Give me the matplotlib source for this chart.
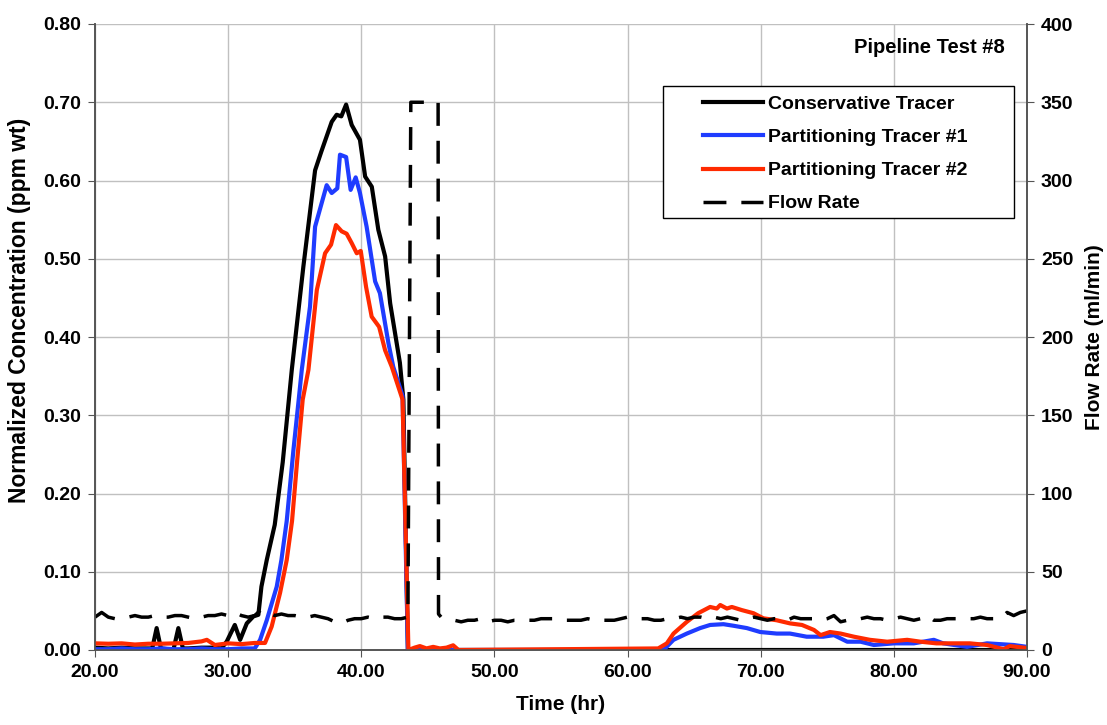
import matplotlib

matplotlib.use("Agg")
import matplotlib.pyplot as plt
from matplotlib.lines import Line2D
from matplotlib.patches import Rectangle

# --- data --------------------------------------------------------------------
CONS_T = [20, 21, 22, 23, 24, 24.3, 24.63, 24.95, 25.5, 25.9, 26.26, 26.6, 27, 28,
          29, 29.5, 29.9, 30.5, 30.9, 31.4, 31.9, 32.27, 32.5, 32.9, 33.5, 34.1,
          34.78, 35.65, 36.53, 37.0, 37.78, 38.15, 38.5, 38.86, 39.28, 39.9, 40.29,
          40.79, 41.28, 41.79, 42.17, 42.9, 43.16, 43.5, 50, 60, 70, 80, 90]
CONS_C = [0.003, 0.002, 0.003, 0.002, 0.002, 0.002, 0.028, 0.002, 0.001, 0.001,
          0.028, 0.002, 0.002, 0.003, 0.003, 0.002, 0.011, 0.032, 0.013, 0.034,
          0.043, 0.045, 0.081, 0.115, 0.16, 0.24, 0.358, 0.49, 0.613, 0.637, 0.675,
          0.684, 0.682, 0.697, 0.671, 0.652, 0.605, 0.592, 0.537, 0.503, 0.443,
          0.367, 0.32, 0.0, 0.0, 0.0, 0.0, 0.0, 0.0]

PT1_T = [20, 21, 22, 23, 24, 25, 26, 27, 28, 29, 30, 31, 32, 32.4, 32.9, 33.65,
         34.0, 34.4, 34.9, 35.3, 35.53, 36.15, 36.53, 37.4, 37.78, 38.2, 38.4, 38.86,
         39.2, 39.58, 39.9, 40.4, 41.04, 41.4, 42.04, 42.4, 43.1, 43.5, 44, 62.7,
         63.45, 64.45, 65.45, 66.2, 67.2, 67.95, 68.96, 69.96, 71.2, 72.2, 73.45,
         74.7, 75.5, 76.5, 77.5, 78.5, 80.0, 81.5, 83.0, 83.7, 85.5, 87.0, 89.0, 90]
PT1_C = [0.001, 0.001, 0.002, 0.001, 0.001, 0.002, 0.001, 0.001, 0.002, 0.001,
         0.001, 0.002, 0.002, 0.013, 0.038, 0.081, 0.115, 0.165, 0.255, 0.32, 0.358,
         0.439, 0.541, 0.594, 0.584, 0.590, 0.633, 0.630, 0.588, 0.604, 0.584, 0.541,
         0.471, 0.456, 0.392, 0.362, 0.325, 0.0, 0.0, 0.0, 0.013, 0.021, 0.028,
         0.032, 0.033, 0.031, 0.028, 0.023, 0.021, 0.021, 0.017, 0.017, 0.019,
         0.0106, 0.0106, 0.0064, 0.0085, 0.0085, 0.013, 0.0085, 0.004, 0.0085,
         0.0064, 0.004]

PT2_T = [20, 21, 22, 23, 24, 25, 26, 27, 28, 28.4, 29, 30, 31, 32, 32.5, 32.77,
         33.27, 33.9, 34.4, 34.8, 35.2, 35.6, 36.03, 36.66, 37.28, 37.73, 38.1,
         38.53, 38.9, 39.28, 39.66, 39.96, 40.36, 40.78, 41.34, 41.79, 42.29, 43.1,
         43.54, 44, 44.4, 44.9, 45.4, 45.9, 46.4, 46.9, 47.3, 62.3, 62.95, 63.45,
         64.45, 65.3, 66.2, 66.7, 66.96, 67.46, 67.83, 68.58, 69.46, 70.2, 71.2,
         72.2, 73.1, 74.0, 74.5, 75.2, 76.0, 77.0, 78.2, 79.5, 81.0, 82.0, 83.2,
         84.5, 85.7, 87.0, 88.25, 88.7, 90]
PT2_C = [0.0085, 0.008, 0.0085, 0.007, 0.008, 0.008, 0.0085, 0.009, 0.011, 0.013,
         0.0064, 0.0085, 0.0075, 0.009, 0.009, 0.009, 0.03, 0.073, 0.115, 0.165,
         0.245, 0.32, 0.358, 0.46, 0.507, 0.518, 0.543, 0.535, 0.532, 0.52, 0.507,
         0.510, 0.464, 0.426, 0.413, 0.383, 0.362, 0.32, 0.0, 0.003, 0.005, 0.002,
         0.004, 0.002, 0.003, 0.006, 0.0, 0.002, 0.0085, 0.021, 0.036, 0.047,
         0.055, 0.053, 0.0575, 0.053, 0.055, 0.051, 0.047, 0.0405, 0.038, 0.034,
         0.032, 0.0256, 0.019, 0.023, 0.021, 0.017, 0.013, 0.0106, 0.013, 0.0106,
         0.0085, 0.0085, 0.0085, 0.0064, 0.001, 0.005, 0.0025]

FLOW_T = [20.0, 20.5, 21.0, 21.5, 22.0, 22.5, 23.0, 23.5, 24.0, 24.5, 25.0, 25.5,
          26.0, 26.5, 27.0, 27.5, 28.0, 28.5, 29.0, 29.5, 30.0, 30.5, 31.0, 31.5,
          32.0, 32.5, 33.0, 33.5, 34.0, 34.5, 35.0, 35.5, 36.0, 36.5, 37.0, 37.5,
          38.0, 38.5, 39.0, 39.5, 40.0, 40.5, 41.0, 41.5, 42.0, 42.5, 43.0, 43.5,
          43.72, 45.77, 45.8, 46.0, 46.5, 47.0, 47.5, 48.0, 48.5, 49.0, 49.5, 50.0,
          50.5, 51.0, 51.5, 52.0, 52.5, 53.0, 53.5, 54.0, 54.5, 55.0, 55.5, 56.0,
          56.5, 57.0, 57.5, 58.0, 58.5, 59.0, 59.5, 60.0, 60.5, 61.0, 61.5, 62.0,
          62.5, 63.0, 63.5, 64.0, 64.5, 65.0, 65.5, 66.0, 66.5, 67.0, 67.5, 68.0,
          68.5, 69.0, 69.5, 70.0, 70.5, 71.0, 71.5, 72.0, 72.5, 73.0, 73.5, 74.0,
          74.5, 75.0, 75.5, 76.0, 76.5, 77.0, 77.5, 78.0, 78.5, 79.0, 79.5, 80.0,
          80.5, 81.0, 81.5, 82.0, 82.5, 83.0, 83.5, 84.0, 84.5, 85.0, 85.5, 86.0,
          86.5, 87.0, 87.5, 88.0, 88.5, 89.0, 89.5, 90.0]
FLOW_Q = [21, 24, 21, 20, 21, 21, 22, 21, 21, 22, 21, 21,
          22, 22, 21, 20, 21, 22, 22, 23, 22, 24, 22, 21,
          22, 26, 24, 22, 23, 22, 22, 21, 21, 22, 21, 20,
          18, 17, 19, 20, 20, 21, 20, 21, 21, 20, 20, 21,
          350, 350, 23, 21, 20, 19, 18, 19, 19, 20, 18, 19,
          19, 18, 19, 19, 19, 19, 20, 20, 20, 19, 19, 19,
          19, 20, 19, 19, 19, 19, 20, 21, 20, 20, 20, 19,
          19, 20, 20, 21, 20, 21, 21, 20, 21, 20, 21, 20,
          19, 20, 21, 20, 19, 20, 20, 19, 21, 20, 20, 20,
          19, 20, 22, 18, 19, 20, 20, 21, 20, 20, 19, 20,
          21, 20, 19, 20, 22, 19, 19, 20, 20, 20, 20, 20,
          21, 20, 20, 20, 24, 22, 24, 25]

X_TICKS = [20, 30, 40, 50, 60, 70, 80, 90]
Y_TICKS = [0.0, 0.1, 0.2, 0.3, 0.4, 0.5, 0.6, 0.7, 0.8]
Q_TICKS = [0, 50, 100, 150, 200, 250, 300, 350, 400]

BLUE = "#1f3cff"
RED = "#ff2a00"
GRID = "#c0c0c0"
SPINE = "#555555"
FLOW_DASH = (0, (6.6, 4.3))
FS = 14

plt.rcParams.update({"font.family": ["Liberation Sans", "DejaVu Sans"],
                     "font.weight": "bold", "font.size": FS})

fig = plt.figure(figsize=(11.07, 7.25), dpi=100)
ax = fig.add_axes([95 / 1107, 75 / 725, 932 / 1107, 626 / 725])
ax2 = ax.twinx()

ax.plot(CONS_T, CONS_C, color="black", lw=3, solid_joinstyle="round", zorder=3)
ax.plot(PT1_T, PT1_C, color=BLUE, lw=3, solid_joinstyle="round", zorder=3)
ax.plot(PT2_T, PT2_C, color=RED, lw=3, solid_joinstyle="round", zorder=3)
ax2.plot(FLOW_T, FLOW_Q, color="black", lw=2.5, ls=FLOW_DASH, dash_capstyle="butt")

ax.set_xlim(20, 90)
ax.set_ylim(0, 0.8)
ax2.set_ylim(0, 400)
ax.set_xticks(X_TICKS)
ax.set_xticklabels([f"{v:.2f}" for v in X_TICKS])
ax.set_yticks(Y_TICKS)
ax.set_yticklabels([f"{v:.2f}" for v in Y_TICKS])
ax2.set_yticks(Q_TICKS)
ax2.set_yticklabels([str(v) for v in Q_TICKS])

ax.grid(True, color=GRID, lw=1)
ax.set_axisbelow(True)
for a in (ax, ax2):
    a.spines["top"].set_visible(False)
    for s in ("left", "right", "bottom"):
        a.spines[s].set_color(SPINE)
        a.spines[s].set_linewidth(1.2)
ax.tick_params(axis="both", direction="out", length=5, color=SPINE, labelsize=FS, pad=5)
ax2.tick_params(axis="y", direction="out", length=5, color=SPINE, labelsize=FS, pad=5)

ax.set_xlabel("Time (hr)", fontsize=15, fontweight="bold", labelpad=10)
fig.text(20 / 1107, 1 - 310 / 725, "Normalized Concentration (ppm wt)", rotation=90,
         ha="center", va="center", fontsize=16.5, fontweight="bold")
ax2.set_ylabel("Flow Rate (ml/min)", fontsize=15, fontweight="bold", labelpad=8)

ax.text(0.976, 0.963, "Pipeline Test #8", transform=ax.transAxes, ha="right",
        va="center", fontsize=14.5, fontweight="bold")

# legend with a manually placed frame
ax2.add_patch(Rectangle((0.609, 0.690), 0.377, 0.211, transform=ax.transAxes,
                        facecolor="white", edgecolor="black", lw=1, zorder=5))
handles = [Line2D([], [], color="black", lw=3),
           Line2D([], [], color=BLUE, lw=3),
           Line2D([], [], color=RED, lw=3),
           Line2D([], [], color="black", lw=2.5, ls=FLOW_DASH)]
labels = ["Conservative Tracer", "Partitioning Tracer #1",
          "Partitioning Tracer #2", "Flow Rate"]
leg = ax2.legend(handles, labels, loc="upper left", bbox_to_anchor=(0.652, 0.886),
                 bbox_transform=ax.transAxes, frameon=False, borderpad=0,
                 borderaxespad=0, handlelength=3.1, handletextpad=0.26,
                 labelspacing=0.8, prop={"weight": "bold", "size": FS})
leg.set_zorder(6)

fig.savefig("out.png", dpi=100)
